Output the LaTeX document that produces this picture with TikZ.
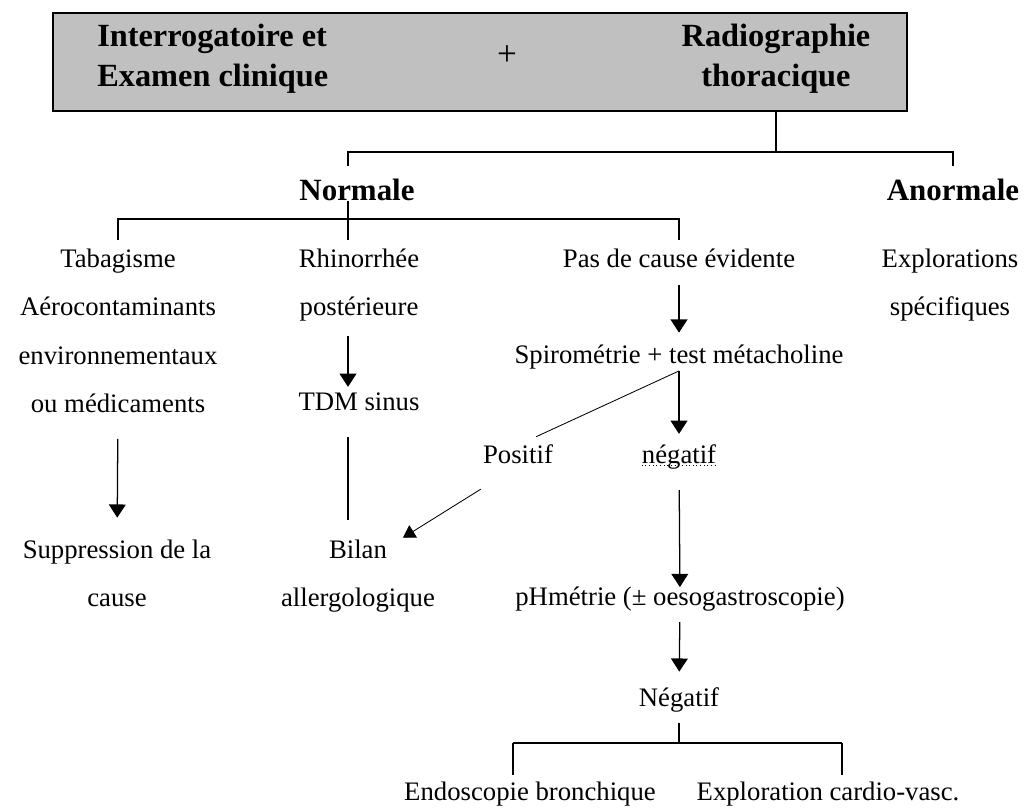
\documentclass[tikz,border=0pt]{standalone}
\usepackage{fontspec}
\setmainfont{Liberation Serif}
\usepackage{tikz}
\usetikzlibrary{arrows.meta}
\usetikzlibrary{positioning}
\definecolor{boxgray}{RGB}{192,192,192}
\tikzstyle{txt} = [inner sep=0pt, text height=13pt, text depth=5pt, font=\fontsize{19}{23}\selectfont]
\tikzstyle{headtxt} = [inner sep=0pt, font=\fontsize{22}{28.45}\selectfont\bfseries]
\tikzstyle{conn} = [line width=0.9pt]
\tikzstyle{arrow} = [conn, -{Triangle[width=0.42cm, length=0.33cm]}]

\begin{document}
\begin{tikzpicture}[x=0.025cm, y=-0.025cm, node distance=0.56cm]
  \tikzstyle{diag}=[line width=0.6pt]
  \useasboundingbox (0,0) rectangle (1024,808);

  % top box
  \node (box) [draw, line width=1.2pt, fill=boxgray, minimum width=21.35cm,
    minimum height=2.45cm, inner sep=0pt] at (480,62) {};
  \node (interro) [headtxt, font=\fontsize{23}{28.45}\selectfont\bfseries, align=left,
    anchor=west] at (97,59) {Interrogatoire et\\Examen clinique};
  \node (plus) [txt, font=\fontsize{25}{28}\selectfont] at (507,60) {+};
  \node (radio) [headtxt, font=\fontsize{23}{28.45}\selectfont\bfseries, align=center]
    at (776,59) {Radiographie\\thoracique};

  \node (nrm) [headtxt] at (357,190) {Normale};
  \node (anrm) [headtxt] at (953,190) {Anormale};

  % first column
  \node (tab) [txt] at (118,262) {Tabagisme};
  \node (aero) [txt, below=of tab] {Aérocontaminants};
  \node (envi) [txt, below=of aero] {environnementaux};
  \node (medic) [txt, below=of envi] {ou médicaments};
  \node (supp) [txt] at (117,553) {Suppression de la};
  \node (cause) [txt, below=of supp] {cause};

  % second column
  \node (rhino) [txt] at (359,262) {Rhinorrhée};
  \node (post) [txt, below=of rhino] {postérieure};
  \node (tdm) [txt] at (359,405) {TDM sinus};
  \node (bilan) [txt] at (358,553) {Bilan};
  \node (allergo) [txt, below=of bilan] {allergologique};

  % third column
  \node (pas) [txt] at (679,262) {Pas de cause évidente};
  \node (spiro) [txt] at (679,358) {Spirométrie + test métacholine};
  \node (posi) [txt] at (518,458) {Positif};
  \node (nega) [txt] at (679,458) {négatif};
  \node (phm) [txt] at (680,600) {pHmétrie (± oesogastroscopie)};
  \node (neg2) [txt] at (679,701) {Négatif};
  \node (endo) [txt] at (530,795) {Endoscopie bronchique};
  \node (cardio) [txt] at (828,795) {Exploration cardio-vasc.};

  % right column
  \node (expl) [txt] at (950,262) {Explorations};
  \node (spec) [txt, below=of expl] {spécifiques};

  \coordinate (up) at (776,152);
  \coordinate (c2) at (348,219);
  \coordinate (b0) at (679,743);
  \coordinate (b1) at (513,743);
  \coordinate (b2) at (842,743);

  % brackets
  \draw[conn] (box.south -| up) -- (up);
  \draw[conn, shorten >=0.31cm] (up) -| (nrm.north -| c2);
  \draw[conn, shorten >=0.31cm] (up) -| (anrm.north);
  \draw[conn, shorten >=0.23cm] (nrm.south -| c2) -- (rhino.north -| c2);
  \draw[conn, shorten >=0.23cm] (c2) -| (tab.north);
  \draw[conn, shorten >=0.23cm] (c2) -| (pas.north);

  % arrows
  \draw[arrow, shorten <=0.48cm, shorten >=0.56cm] (medic) -- (supp);
  \draw[arrow, shorten <=0.31cm, shorten >=0.13cm] (post.south -| c2) -- (tdm.north -| c2);
  \draw[conn, shorten <=0.48cm, shorten >=0.51cm] (tdm.south -| c2) -- (bilan.north -| c2);
  \draw[arrow, shorten <=0.26cm, shorten >=0.31cm] (pas) -- (spiro);
  \draw[arrow, shorten >=0.28cm] (spiro) -- (nega);
  \draw[arrow, shorten <=0.48cm] (nega) -- (phm);
  \draw[arrow, shorten <=0.23cm, shorten >=0.41cm] (phm) -- (neg2);
  \draw[diag, shorten >=0.5cm] (spiro.south) -- (posi.north);
  \draw[diag, -{Triangle[width=0.36cm, length=0.3cm]}, shorten <=0.86cm, shorten >=0.11cm]
    ([xshift=-0.2cm]posi.south) -- ([xshift=0.3cm]bilan.north east);
  \draw[dotted, line width=0.6pt] ([yshift=-1.5pt]nega.base west) -- ([yshift=-1.5pt]nega.base east);

  % last split
  \draw[conn, shorten <=0.23cm] (neg2) -- (b0);
  \draw[conn] (b1) -- (b2);
  \draw[conn, shorten >=0.18cm] (b1) -- (endo.north -| b1);
  \draw[conn, shorten >=0.18cm] (b2) -- (cardio.north -| b2);
\end{tikzpicture}
\end{document}
